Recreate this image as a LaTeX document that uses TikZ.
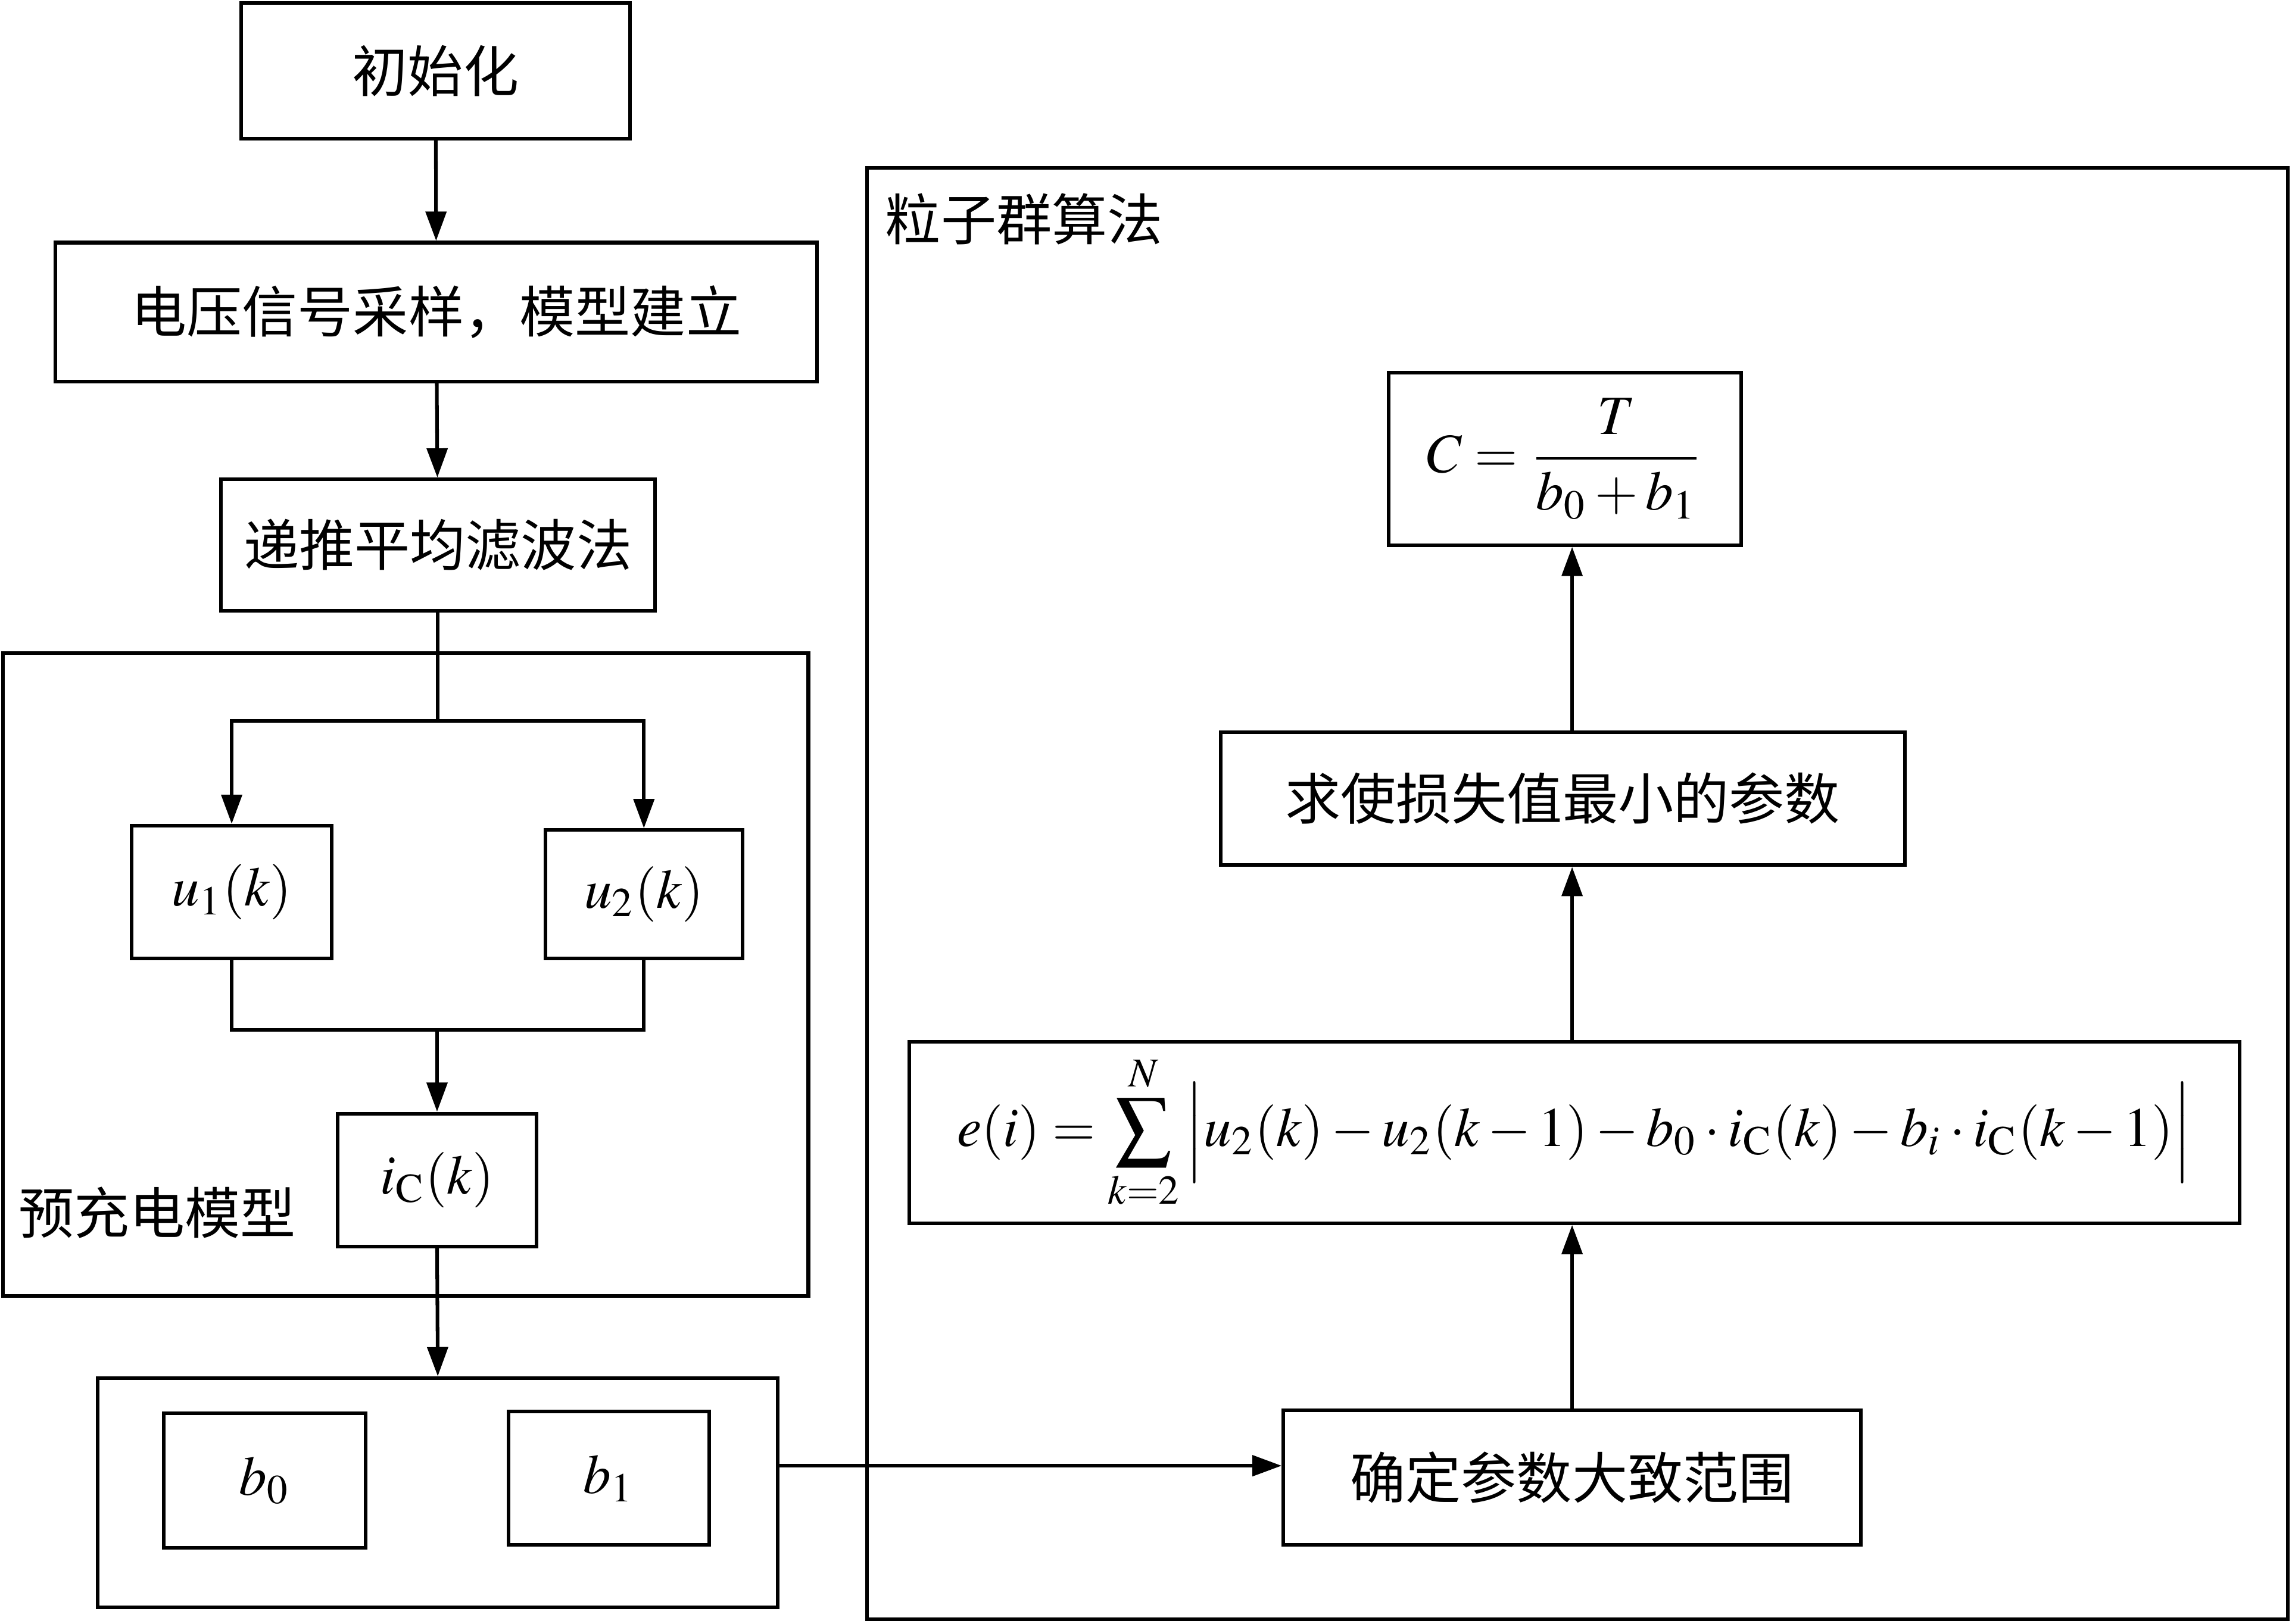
\documentclass[tikz,border=0pt]{standalone}
\usepackage{fontspec}
\usepackage{amsmath}
\usepackage{mathptmx}
\usetikzlibrary{arrows.meta,positioning}
\newfontfamily\cjk{Noto Sans CJK SC}

\begin{document}
\begin{tikzpicture}[
  every node/.style={font=\cjk\fontsize{10.8pt}{13pt}\selectfont},
  block/.style={draw, line width=0.7pt, inner sep=0pt, align=center},
  frame/.style={draw, line width=0.7pt, inner sep=0pt},
  tag/.style={anchor=west, inner sep=0pt},
  arrow/.style={-{Triangle[length=2mm, width=1.4mm]}, line width=0.7pt},
  line/.style={line width=0.7pt}
]
\useasboundingbox (0,0) rectangle (15.68,-11.11);

% left column
\node[block, minimum width=2.66cm, minimum height=0.93cm] (init) at (2.98,-0.485) {初始化};
\node[block, minimum width=5.21cm, minimum height=0.95cm] (sample) at (2.985,-2.135) {电压信号采样，模型建立};
\node[block, minimum width=2.97cm, minimum height=0.90cm] (filter) at (2.995,-3.73) {递推平均滤波法};

% precharge model
\node[frame, minimum width=5.51cm, minimum height=4.40cm] (model) at (2.775,-6.67) {};
\node[tag] (modeltag) at (0.12,-8.30) {预充电模型};
\node[block, minimum width=1.37cm, minimum height=0.91cm] (u1) at (1.585,-6.105) {$u_1(k)$};
\node[block, minimum width=1.35cm, minimum height=0.88cm] (u2) at (4.405,-6.12) {$u_2(k)$};
\node[block, minimum width=1.36cm, minimum height=0.91cm] (ic) at (2.99,-8.075) {$i_{\mathrm{C}}(k)$};

% parameters
\node[frame, minimum width=4.65cm, minimum height=1.57cm] (params) at (2.995,-10.215) {};
\node[block, minimum width=1.38cm, minimum height=0.92cm] (b0) at (1.81,-10.13) {$b_0$};
\node[block, minimum width=1.37cm, minimum height=0.91cm] (b1) at (4.165,-10.115) {$b_1$};

% particle swarm
\node[frame, minimum width=9.72cm, minimum height=9.93cm] (pso) at (10.79,-6.115) {};
\node[tag] (psotag) at (6.05,-1.50) {粒子群算法};
\node[block, minimum width=2.41cm, minimum height=1.18cm] (cap) at (10.705,-3.14) {$C=\dfrac{T}{b_0+b_1}$};
\node[block, minimum width=4.68cm, minimum height=0.91cm] (minpar) at (10.69,-5.465) {求使损失值最小的参数};
\node[block, minimum width=9.10cm, minimum height=1.24cm] (err) at (10.77,-7.75)
  {$\displaystyle e(i)=\sum_{k=2}^{N}\,\Bigl|u_2(k)-u_2(k-1)-b_0\cdot i_{\mathrm{C}}(k)-b_i\cdot i_{\mathrm{C}}(k-1)\Bigr|$};
\node[block, minimum width=3.95cm, minimum height=0.92cm] (range) at (10.755,-10.11) {确定参数大致范围};

\draw[arrow] (init) -- (sample);
\draw[arrow] (sample) -- (filter);
\draw[line] (filter.south) -- ++(0,-0.74) coordinate (fork);
\draw[arrow] (fork) -| (u1.north);
\draw[arrow] (fork) -| (u2.north);
\draw[line] (u1.south) |- ([yshift=0.56cm]ic.north) -| (u2.south);
\draw[arrow] ([yshift=0.56cm]ic.north) -- (ic.north);
\draw[arrow] (ic.south) -- (params.north);
\draw[arrow] (params.east |- 0,-10.03) -- (range.west |- 0,-10.03);
\draw[arrow] (range.north) -- (range.north |- err.south);
\draw[arrow] (range.north |- err.north) -- (range.north |- minpar.south);
\draw[arrow] (range.north |- minpar.north) -- (range.north |- cap.south);

\end{tikzpicture}
\end{document}
